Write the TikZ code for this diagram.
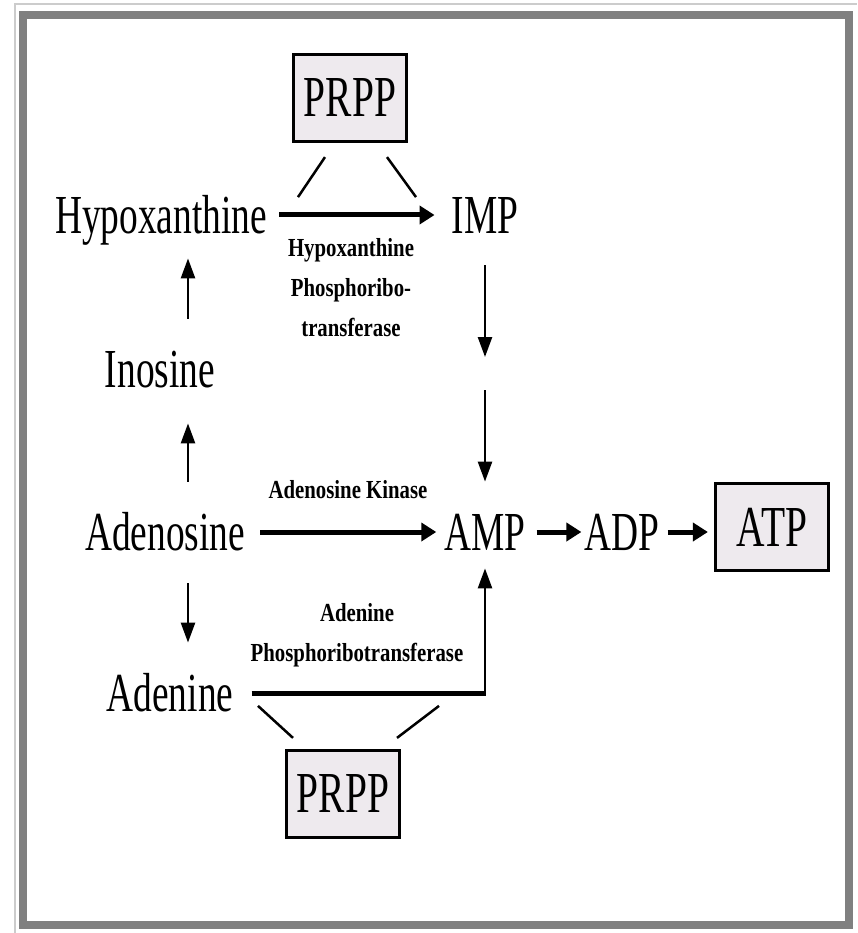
\documentclass[tikz,border=0pt]{standalone}
\usepackage{fontspec}
\usetikzlibrary{arrows.meta, calc}
\newfontfamily\bigfont[FakeStretch=0.68]{Liberation Serif}
\newfontfamily\smallfont[FakeStretch=0.8]{Liberation Serif}
\definecolor{boxfill}{HTML}{EEEAEE}
\definecolor{framegray}{HTML}{808080}
\tikzset{
	metab/.style={font=\bigfont\fontsize{55}{60}\selectfont, inner sep=0pt, text height=36.4pt, text depth=0pt},
	pool/.style={draw, fill=boxfill, line width=3.2pt, minimum width=113pt, minimum height=87pt, inner sep=0pt, font=\bigfont\fontsize{58}{60}\selectfont},
	enzyme/.style={font=\smallfont\bfseries\fontsize{26}{40}\selectfont, align=center, inner sep=0pt},
	fat/.style={line width=5pt, -{Triangle[length=15pt, width=18pt]}},
	slim/.style={line width=2.5pt, -{Triangle[length=20pt, width=14pt]}},
	tie/.style={line width=2.5pt},
}

\begin{document}
\begin{tikzpicture}[x=1pt, y=-1pt]
		\useasboundingbox (0,0) rectangle (857,933);
		\fill[white] (0,0) rectangle (857,933);
		% frame
		\draw[line width=1.5pt, color=gray!40] (15,933) -- (15,4) -- (857,4);
		\draw[line width=8pt, color=framegray] (23,15) rectangle (849,925);

		\node[pool] (prppA) at (350,98) {PRPP};
		\node[metab] (hyp) at (161,215) {Hypoxanthine};
		\node[metab] (imp) at (485,215) {IMP};
		\node[enzyme] (hprt) at (351,288) {Hypoxanthine\\Phosphoribo-\\transferase};
		\node[metab] (ino) at (160,369) {Inosine};
		\node[enzyme] (adk) at (348,490) {Adenosine Kinase};
		\node[metab] (ados) at (165,532) {Adenosine};
		\node[metab] (amp) at (485,532) {AMP};
		\node[metab] (adp) at (622,532) {ADP};
		\node[pool] (atp) at (772,527) {ATP};
		\node[enzyme] (aprt) at (357,635) {Adenine\\Phosphoribotransferase};
		\node[metab] (ade) at (170,693) {Adenine};
		\node[pool] (prppB) at (343,794) {PRPP};

		\coordinate (lane) at (188,0);
		\coordinate (mid) at (485,373);
		\coordinate (bend) at (amp.south |- ade.east);

		\draw[fat, shorten <=12pt, shorten >=17pt] (hyp) -- (imp);
		\draw[fat, shorten <=15pt, shorten >=8pt] (ados) -- (amp);
		\draw[fat, shorten <=11pt, shorten >=3pt] (amp.east) -- (adp.west);
		\draw[fat, shorten <=8pt, shorten >=6pt] (adp.east) -- (adp.east -| atp.west);

		\draw[slim, shorten <=32pt, shorten >=25pt] (ino.north -| lane) -- (hyp.south -| lane);
		\draw[slim, shorten <=32pt, shorten >=36pt] (ados.north -| lane) -- (ino.south -| lane);
		\draw[slim, shorten <=33pt, shorten >=32pt] (ados.south -| lane) -- (ade.north -| lane);
		\draw[slim, shorten <=32pt, shorten >=16pt] (imp.south) -- (mid);
		\draw[slim, shorten <=17pt, shorten >=32pt] (mid) -- (amp.north);

		\draw[line width=5pt, shorten <=18pt] (ade.east) -- ([xshift=1.25pt]bend);
		\draw[slim, shorten >=18pt] ([yshift=2.5pt]bend) -- (amp.south);

		\draw[tie] ($(prppA.south)+(-25,14)$) -- ($(prppA.south)+(-52,54)$);
		\draw[tie] ($(prppA.south)+(37,14)$) -- ($(prppA.south)+(66,54)$);
		\draw[tie] ($(prppB.north)+(-50,-11)$) -- ($(prppB.north)+(-85,-43)$);
		\draw[tie] ($(prppB.north)+(54,-11)$) -- ($(prppB.north)+(96,-43)$);
	\end{tikzpicture}
\end{document}
